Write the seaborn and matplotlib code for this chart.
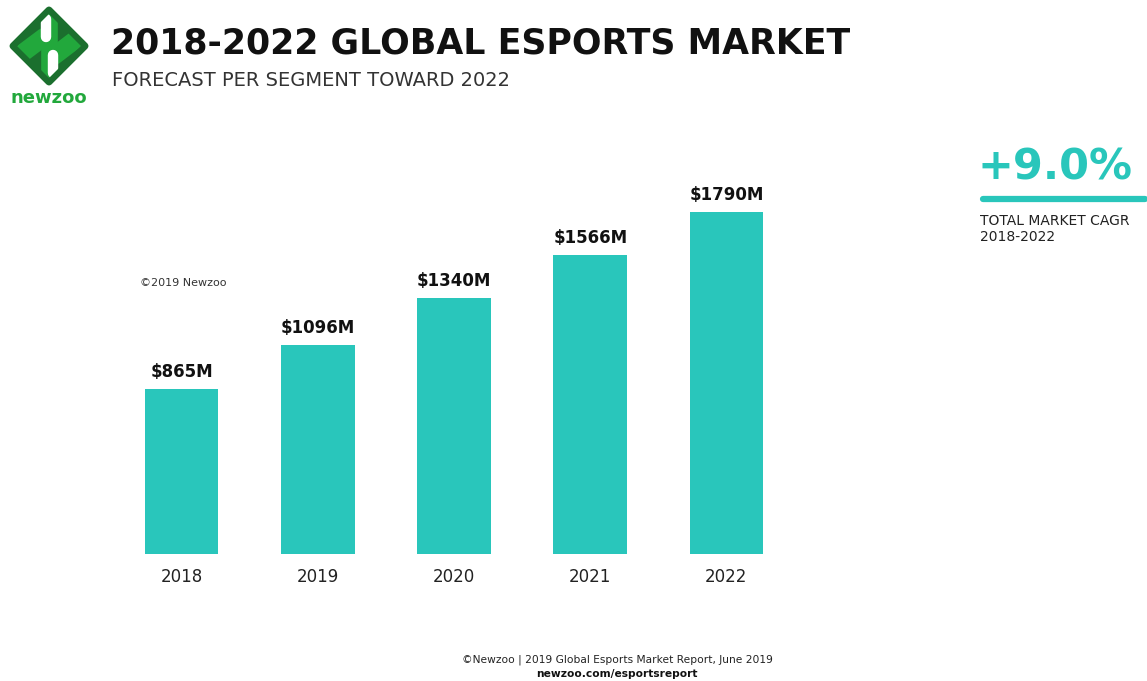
import matplotlib
matplotlib.use("Agg")
import matplotlib.pyplot as plt
import seaborn as sns
import pandas as pd
from matplotlib.patches import Polygon
from matplotlib.lines import Line2D

years = ["2018", "2019", "2020", "2021", "2022"]
revenue = [865, 1096, 1340, 1566, 1790]
value_labels = ["$865M", "$1096M", "$1340M", "$1566M", "$1790M"]

TEAL = "#29C6BB"
GREEN = "#22A83C"
DARK_GREEN = "#1B6F2E"

sns.set_theme(style="white")
plt.rcParams["font.family"] = ["DejaVu Sans"]

W, H = 1147, 681
fig = plt.figure(figsize=(W / 100, H / 100), dpi=100)
fig.patch.set_facecolor("white")

def fx(px):
    return px / W

def fy(py):
    return 1 - py / H

# main bar chart
ax = fig.add_axes([fx(113.5), fy(554), fx(681), 381.6 / H])
df = pd.DataFrame({"year": years, "revenue": revenue})
sns.barplot(data=df, x="year", y="revenue", color=TEAL, width=0.54,
            saturation=1, linewidth=0, ax=ax)
ax.set_xlim(-0.5, 4.5)
ax.set_ylim(0, 2000)
ax.bar_label(ax.containers[0], labels=value_labels, padding=6,
             fontsize=12, fontweight="bold", color="#111111")
ax.set_xlabel("")
ax.set_ylabel("")
ax.set_yticks([])
ax.tick_params(axis="x", length=0, pad=10, labelsize=12, labelcolor="#222222")
sns.despine(ax=ax, left=True, bottom=True)

# titles
fig.text(fx(111), fy(44), "2018-2022 GLOBAL ESPORTS MARKET", fontsize=25,
         fontweight="heavy", color="#111111", va="center", ha="left")
fig.text(fx(112), fy(81), "FORECAST PER SEGMENT TOWARD 2022", fontsize=14,
         color="#333333", va="center", ha="left")
fig.text(fx(140), fy(283), "\u00a92019 Newzoo", fontsize=8, color="#333333",
         va="center", ha="left")

# CAGR callout
fig.text(fx(978), fy(167), "+9.0%", fontsize=31, fontweight="heavy",
         color=TEAL, va="center", ha="left")
fig.add_artist(Line2D([fx(983), fx(1145)], [fy(199), fy(199)], color=TEAL,
                      lw=4.5, solid_capstyle="round"))
fig.text(fx(980), fy(221), "TOTAL MARKET CAGR", fontsize=10, color="#222222",
         va="center", ha="left")
fig.text(fx(980), fy(237), "2018-2022", fontsize=10, color="#222222",
         va="center", ha="left")

# footer
fig.text(fx(617), fy(660), "\u00a9Newzoo | 2019 Global Esports Market Report, June 2019",
         fontsize=7.7, color="#222222", va="center", ha="center")
fig.text(fx(617), fy(674), "newzoo.com/esportsreport", fontsize=7.7,
         fontweight="bold", color="#111111", va="center", ha="center")

# newzoo logo
lax = fig.add_axes([0, fy(95), fx(95), 95 / H])
lax.set_xlim(0, 95)
lax.set_ylim(95, 0)
lax.axis("off")
diamond = Polygon([(49, 10), (85, 46), (49, 82), (13, 46)], closed=True,
                  facecolor=DARK_GREEN, edgecolor=DARK_GREEN, lw=5,
                  joinstyle="round")
lax.add_patch(diamond)
inner = Polygon([(49, 14), (81, 46), (49, 78), (17, 46)], closed=True,
                facecolor="none", edgecolor="none", transform=lax.transData)
# bright green lobes, clipped to the diamond
strokes = [
    ([24, 44], [52, 37], GREEN, 13),
    ([54, 75], [56, 40], GREEN, 13),
    ([49, 49], [18, 74], GREEN, 12),
    ([45.5, 45.5], [19, 37], "white", 7.5),
    ([52.5, 52.5], [55, 73], "white", 7.5),
]
for xs, ys, c, w in strokes:
    ln, = lax.plot(xs, ys, color=c, lw=w, solid_capstyle="round")
    ln.set_clip_path(inner)
fig.text(fx(49), fy(98), "newzoo", fontsize=13, fontweight="bold", color=GREEN,
         va="center", ha="center")

plt.savefig("out.png", dpi=100, facecolor="white")
plt.close()
